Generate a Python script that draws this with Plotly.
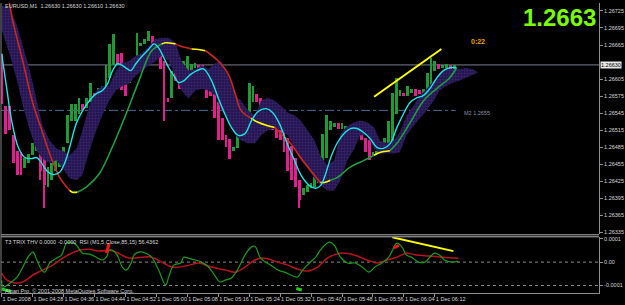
import plotly.graph_objects as go

# ---------------- data ----------------
tick_bars = [0, 8, 16, 24, 32, 40, 48, 56, 64, 72, 80, 88, 96, 104, 112]
tick_labels = ["1 Dec 2008", "1 Dec 04:28", "1 Dec 04:36", "1 Dec 04:44", "1 Dec 04:52",
               "1 Dec 05:00", "1 Dec 05:08", "1 Dec 05:16", "1 Dec 05:24", "1 Dec 05:32",
               "1 Dec 05:40", "1 Dec 05:48", "1 Dec 05:56", "1 Dec 06:04", "1 Dec 06:12"]
price_ticks = [1.26725, 1.26695, 1.26665, 1.26605, 1.26575, 1.26545,
               1.26515, 1.26485, 1.26455, 1.26425, 1.26395, 1.26365, 1.26335]
sub_ticks = [0.0001, 0.0, -0.0001]
sub_tick_text = ["0.0001", "0.00", "-0.0001"]
sub_levels = [0.0, -0.0001]

symbol = "EURUSD,M1"
ohlc_last = ["1.26630", "1.26630", "1.26610", "1.26630"]
bid = 1.26630
m2_level = 1.2655
timer_text = "0:22"
sub_title = "T3 TRIX THV 0.0000 -0.0000  RSI (M1,5,Close,85,15) 56.4362"
copyright_text = "Alpari Pro, \u00a9 2001-2008 MetaQuotes Software Corp."

# Heiken-Ashi style bars: body top, body bottom, up(1)/down(0)
bar_top = [1.26650, 1.26558, 1.26558, 1.26506, 1.26479, 1.26476, 1.26467, 1.26474, 1.26493, 1.26493,
           1.26485, 1.26467, 1.26450, 1.26457, 1.26467, 1.26467, 1.26485, 1.26541, 1.26562, 1.26562,
           1.26572, 1.26562, 1.26571, 1.26599, 1.26581, 1.26590, 1.26593, 1.26629, 1.26667, 1.26685,
           1.26650, 1.26651, 1.26623, 1.26625, 1.26641, 1.26686, 1.26669, 1.26676, 1.26690, 1.26681,
           1.26676, 1.26650, 1.26637, 1.26572, 1.26620, 1.26650, 1.26602, 1.26637, 1.26646, 1.26632,
           1.26634, 1.26629, 1.26629, 1.26623, 1.26599, 1.26593, 1.26564, 1.26537, 1.26506, 1.26500,
           1.26485, 1.26520, 1.26532, 1.26544, 1.26599, 1.26593, 1.26579, 1.26572, 1.26529, 1.26527,
           1.26537, 1.26532, 1.26518, 1.26515, 1.26502, 1.26488, 1.26467, 1.26427, 1.26413, 1.26418,
           1.26422, 1.26432, 1.26448, 1.26509, 1.26541, 1.26532, 1.26527, 1.26527, 1.26527, 1.26523,
           1.26520, 1.26520, 1.26515, 1.26515, 1.26502, 1.26497, 1.26476, 1.26479, 1.26485, 1.26502,
           1.26532, 1.26581, 1.26607, 1.26585, 1.26581, 1.26593, 1.26588, 1.26588, 1.26585, 1.26588,
           1.26616, 1.26643, 1.26637, 1.26632, 1.26629, 1.26632, 1.26629, 1.26629]
bar_bot = [1.26562, 1.26509, 1.26515, 1.26457, 1.26436, 1.26436, 1.26448, 1.26457, 1.26471, 1.26479,
           1.26444, 1.26418, 1.26415, 1.26427, 1.26444, 1.26450, 1.26462, 1.26492, 1.26532, 1.26532,
           1.26544, 1.26550, 1.26555, 1.26564, 1.26571, 1.26576, 1.26581, 1.26585, 1.26607, 1.26629,
           1.26632, 1.26585, 1.26576, 1.26599, 1.26623, 1.26643, 1.26664, 1.26667, 1.26672, 1.26658,
           1.26660, 1.26623, 1.26567, 1.26564, 1.26572, 1.26602, 1.26588, 1.26611, 1.26614, 1.26614,
           1.26625, 1.26623, 1.26620, 1.26571, 1.26576, 1.26537, 1.26497, 1.26497, 1.26485, 1.26465,
           1.26479, 1.26483, 1.26500, 1.26532, 1.26532, 1.26564, 1.26564, 1.26532, 1.26520, 1.26515,
           1.26515, 1.26502, 1.26497, 1.26476, 1.26444, 1.26427, 1.26415, 1.26392, 1.26401, 1.26406,
           1.26413, 1.26415, 1.26422, 1.26439, 1.26467, 1.26515, 1.26520, 1.26518, 1.26518, 1.26518,
           1.26515, 1.26509, 1.26506, 1.26497, 1.26476, 1.26462, 1.26471, 1.26474, 1.26476, 1.26479,
           1.26485, 1.26488, 1.26544, 1.26576, 1.26576, 1.26576, 1.26581, 1.26576, 1.26579, 1.26581,
           1.26581, 1.26593, 1.26620, 1.26623, 1.26625, 1.26625, 1.26614, 1.26620]
bar_up = [0, 0, 0, 0, 0, 0, 1, 1, 1, 1, 0, 0, 1, 1, 1, 1, 1, 1, 1, 1,
          1, 0, 1, 1, 0, 1, 1, 1, 1, 1, 0, 0, 0, 1, 1, 1, 1, 1, 1, 0,
          1, 0, 0, 0, 1, 0, 0, 1, 1, 1, 1, 0, 0, 0, 0, 0, 0, 0, 0, 0,
          1, 1, 1, 1, 1, 1, 0, 0, 0, 0, 0, 0, 0, 0, 0, 0, 0, 0, 1, 1,
          1, 1, 1, 1, 1, 1, 1, 0, 1, 1, 1, 0, 0, 0, 0, 0, 1, 1, 1, 1,
          1, 1, 1, 1, 0, 1, 1, 0, 0, 1, 1, 1, 1, 0, 1, 1, 0, 1]
wick_bar = [10, 11, 42, 67, 77]
wick_high = [1.26485, 1.26467, 1.26637, 1.26572, 1.26427]
wick_low = [1.26427, 1.26379, 1.26532, 1.26515, 1.26378]

# fast smoothed line (cyan)
fast_x = [0, 1.3, 2.6, 4.3, 6, 7.7, 9, 10.3, 11.6, 13.3, 15, 16.3, 17.6, 19.3, 21, 22.7, 24.4, 26.1,
          27.4, 28.7, 30, 31.2, 32.5, 33.4, 34.7, 36.4, 38.1, 39.4, 40.6, 41.9, 43.2, 44.5, 45.8, 47.1,
          48.8, 50.5, 52.2, 54.3, 56, 57.7, 59.4, 61.2, 62.9, 64.6, 66.3, 68.4, 70.1, 71.8, 73.5, 75.7,
          77.4, 79.5, 81.2, 82.5, 83.8, 85.1, 86.8, 88.5, 90.2, 91.9, 93.6, 95.3, 97, 98.7, 100.5, 102.2,
          103.9, 105.6, 107.3, 109, 110.7, 112.4, 114.2, 115.9, 117.6]
fast_y = [1.26650, 1.26590, 1.26532, 1.26485, 1.26467, 1.26465, 1.26467, 1.26458, 1.26444, 1.26437,
          1.26441, 1.26457, 1.26485, 1.26527, 1.26550, 1.26567, 1.26579, 1.26585, 1.26597, 1.26620,
          1.26632, 1.26629, 1.26623, 1.26620, 1.26632, 1.26646, 1.26658, 1.26667, 1.26660, 1.26643,
          1.26625, 1.26611, 1.26599, 1.26602, 1.26613, 1.26620, 1.26623, 1.26602, 1.26572, 1.26544,
          1.26520, 1.26506, 1.26509, 1.26532, 1.26548, 1.26553, 1.26546, 1.26527, 1.26497, 1.26462,
          1.26436, 1.26418, 1.26413, 1.26418, 1.26439, 1.26467, 1.26493, 1.26509, 1.26518, 1.26518,
          1.26511, 1.26500, 1.26485, 1.26483, 1.26492, 1.26520, 1.26544, 1.26564, 1.26572, 1.26576,
          1.26588, 1.26606, 1.26620, 1.26625, 1.26625]

# slow moving average, coloured by slope state: r = falling, y = flat, g = rising
slow_x = [1.9, 2.9, 5.5, 8.1, 10.4, 12.4, 15.0, 17.6, 18.3, 19.6, 21.9, 25.3, 28.6, 32.2, 35.5, 38.8,
          41.4, 42.4, 45.0, 45.8, 49.1, 50.9, 52.7, 53.5, 56.0, 58.6, 60.4, 61.9, 64.5, 66.3, 68.8,
          70.6, 72.2, 74.7, 77.3, 79.9, 82.4, 83.5, 85.0, 86.8, 90.1, 93.7, 96.3, 97.8, 100.4, 102.2,
          105.5, 109.1, 112.4, 115.8, 117.6]
slow_y = [1.26745, 1.26707, 1.26636, 1.26562, 1.26515, 1.26474, 1.26432, 1.26409, 1.26406, 1.26406,
          1.26415, 1.26439, 1.26485, 1.26544, 1.26602, 1.26655, 1.26667, 1.26669, 1.26667, 1.26664,
          1.26658, 1.26657, 1.26655, 1.26651, 1.26637, 1.26614, 1.26579, 1.26550, 1.26536, 1.26529,
          1.26523, 1.26520, 1.26509, 1.26492, 1.26467, 1.26444, 1.26423, 1.26423, 1.26427, 1.26432,
          1.26450, 1.26462, 1.26471, 1.26476, 1.26479, 1.26492, 1.26527, 1.26567, 1.26588, 1.26607,
          1.26625]
slow_state = ["r", "r", "r", "r", "r", "r", "r", "r", "y", "y", "g", "g", "g", "g", "g", "g",
              "g", "y", "y", "r", "r", "y", "y", "r", "r", "r", "r", "r", "r", "y", "y",
              "y", "r", "r", "r", "r", "r", "y", "y", "g", "g", "g", "g", "y", "y", "g",
              "g", "g", "g", "g", "g"]

# displaced purple band
cloud_x = [0.1, 2.2, 4.0, 5.5, 7.3, 9.1, 10.6, 12.4, 14.2, 15.8, 17.6, 19.4, 20.9, 22.7, 24.5, 26.0,
           27.8, 29.6, 31.2, 32.9, 34.7, 36.3, 38.1, 39.9, 41.4, 43.2, 45.0, 46.5, 48.3, 50.1, 51.7,
           53.5, 55.3, 56.8, 58.6, 60.4, 61.9, 63.7, 65.5, 67.1, 68.8, 70.6, 72.2, 74.0, 75.8, 77.3,
           79.1, 80.9, 82.4, 84.2, 86.0, 87.6, 89.4, 91.2, 92.7, 94.5, 96.3, 97.8, 99.6, 101.4, 102.9,
           104.7, 106.5, 108.1, 109.9, 111.7, 113.2, 115.0, 116.8, 118.3, 120.1, 121.9, 123.0]
cloud_hi = [1.26734, 1.26729, 1.26699, 1.26664, 1.26620, 1.26567, 1.26523, 1.26497, 1.26483, 1.26479,
            1.26471, 1.26483, 1.26515, 1.26558, 1.26585, 1.26593, 1.26593, 1.26620, 1.26634, 1.26637,
            1.26646, 1.26651, 1.26664, 1.26676, 1.26678, 1.26678, 1.26669, 1.26637, 1.26620, 1.26623,
            1.26629, 1.26623, 1.26634, 1.26637, 1.26611, 1.26576, 1.26567, 1.26550, 1.26541, 1.26567,
            1.26572, 1.26567, 1.26558, 1.26546, 1.26541, 1.26532, 1.26515, 1.26497, 1.26471, 1.26453,
            1.26462, 1.26509, 1.26523, 1.26529, 1.26532, 1.26529, 1.26520, 1.26497, 1.26492, 1.26497,
            1.26511, 1.26541, 1.26558, 1.26576, 1.26588, 1.26602, 1.26616, 1.26623, 1.26623, 1.26623,
            1.26625, 1.26622, 1.26618]
cloud_lo = [1.26690, 1.26646, 1.26602, 1.26558, 1.26515, 1.26479, 1.26465, 1.26457, 1.26462, 1.26448,
            1.26430, 1.26427, 1.26436, 1.26479, 1.26515, 1.26541, 1.26567, 1.26585, 1.26593, 1.26597,
            1.26611, 1.26620, 1.26629, 1.26637, 1.26646, 1.26637, 1.26611, 1.26585, 1.26571, 1.26585,
            1.26588, 1.26585, 1.26576, 1.26550, 1.26532, 1.26506, 1.26497, 1.26492, 1.26492, 1.26506,
            1.26515, 1.26518, 1.26515, 1.26506, 1.26483, 1.26462, 1.26448, 1.26430, 1.26418, 1.26409,
            1.26409, 1.26427, 1.26462, 1.26483, 1.26506, 1.26506, 1.26483, 1.26474, 1.26474, 1.26474,
            1.26476, 1.26506, 1.26523, 1.26536, 1.26550, 1.26567, 1.26585, 1.26593, 1.26599, 1.26602,
            1.26607, 1.26613, 1.26616]

trend_x = [96.3, 113.7]
trend_y = [1.26574, 1.26658]

# sub-window oscillators
osc_fast_x = [0, 0.4, 2.2, 4.0, 5.5, 6.8, 8.1, 9.1, 10.4, 11.2, 12.4, 14.2, 15.5, 16.8, 18.1, 19.4,
              20.9, 22.7, 24.5, 26.0, 27.1, 27.8, 28.6, 29.9, 31.2, 32.2, 33.5, 34.2, 35.5, 37.3, 38.8,
              40.6, 42.4, 43.2, 44.5, 46.3, 47.1, 48.3, 50.1, 51.7, 53.5, 54.7, 56.5, 57.8, 59.4, 61.2,
              62.9, 64.5, 65.5, 66.8, 68.1, 69.6, 71.4, 73.2, 74.7, 76.5, 77.8, 79.6, 81.2, 82.4, 84.7,
              86.0, 87.6, 89.4, 91.4, 93.2, 95.0, 96.5, 98.3, 100.1, 102.2, 103.5, 104.7, 106.0, 107.8,
              109.4, 110.7, 111.9, 113.2, 114.5, 116.3, 118.1]
osc_fast_y = [-0.000077, -0.000106, -0.000089, -0.000064, -0.000021, 0.000021, 0.000043, 0.000009,
              -0.000034, -0.000043, -0.000004, 0.000017, 0.000030, 0.000081, 0.000085, 0.000072,
              0.000038, 0.000034, 0.000021, 0.000009, 0.000021, 0.000051, 0.000051, 0.000030,
              -0.000021, -0.000034, -0.000004, 0.000030, 0.000043, 0.000038, 0.000021, -0.000034,
              -0.000098, -0.000064, -0.000013, -0.000004, 0.000021, 0.000017, 0.000009, 0.000000,
              -0.000021, -0.000047, -0.000085, -0.000077, -0.000068, -0.000026, 0.000030, 0.000064,
              0.000068, 0.000021, 0.000000, -0.000013, -0.000034, -0.000043, -0.000055, -0.000064,
              -0.000034, -0.000004, 0.000021, 0.000051, 0.000085, 0.000072, 0.000021, -0.000004,
              -0.000004, -0.000021, -0.000043, -0.000021, -0.000004, 0.000021, 0.000081, 0.000064,
              0.000030, 0.000021, 0.000000, 0.000000, 0.000021, 0.000038, 0.000030, 0.000009,
              0.000000, 0.000004]
osc_slow_x = [0, 1.4, 3.5, 5.5, 8.1, 10.6, 13.2, 15.8, 18.1, 20.1, 22.7, 25.3, 27.8, 29.6, 32.2, 33.7,
              36.3, 38.8, 41.4, 44.0, 47.6, 50.9, 54.2, 57.8, 60.4, 62.9, 65.5, 68.1, 71.4, 74.0, 76.5,
              79.1, 81.7, 84.2, 87.6, 91.2, 94.5, 97.1, 99.6, 102.2, 104.7, 107.3, 110.6, 114.2, 118.1]
osc_slow_y = [-0.000047, -0.000077, -0.000089, -0.000085, -0.000055, -0.000034, -0.000013, 0.000017,
              0.000038, 0.000051, 0.000055, 0.000047, 0.000051, 0.000043, 0.000021, 0.000017, 0.000021,
              0.000021, 0.000000, -0.000021, -0.000017, -0.000004, -0.000021, -0.000034, -0.000043,
              -0.000021, 0.000009, 0.000017, 0.000000, -0.000013, -0.000030, -0.000038, -0.000021,
              0.000017, 0.000038, 0.000030, 0.000009, -0.000004, 0.000009, 0.000021, 0.000038,
              0.000030, 0.000026, 0.000021, 0.000017]
osc_trend_x = [101.0, 116.8]
osc_trend_y = [0.000106, 0.000047]
osc_red_marks = [([27.1, 27.8], [0.000038, 0.000081]), ([101.4, 102.7], [0.000060, 0.000072])]
osc_green_marks = [([0.0, 2.5], [-0.000115, -0.000125]), ([76.2, 77.6], [-0.000113, -0.000119])]

# ---------------- layout geometry ----------------
W, H = 625, 305
ML, MR, MT, MB = 1, 18, 2, 12
PW = W - ML - MR
PH = H - MT - MB
BAR0_PX, BAR_PX = 1.6, 3.92


def fx(px):
    return (px - ML) / PW


def fy(py):
    return (H - MB - py) / PH


x_range = [(ML - BAR0_PX) / BAR_PX, (ML + PW - BAR0_PX) / BAR_PX]
main_range = [1.26332, 1.26739]
sub_range = [-0.0001319, 0.0001064]

FONT = "Liberation Sans"
GREEN_BAR, PINK_BAR = "#1f9a36", "#e0208e"
STATE_COL = {"r": "#c8281e", "y": "#ffff00", "g": "#1e9e3e"}

fig = go.Figure()

# purple band (dotted fill like the terminal's hatched histogram)
fig.add_trace(go.Scatter(x=cloud_x, y=cloud_lo, mode="lines", line=dict(width=0),
                         hoverinfo="skip", xaxis="x", yaxis="y"))
fig.add_trace(go.Scatter(x=cloud_x, y=cloud_hi, mode="lines", line=dict(width=0),
                         fill="tonexty", fillcolor="#1e1242",
                         fillpattern=dict(shape=".", fgcolor="#4b2f96", bgcolor="#1e1242",
                                          size=3, solidity=0.55),
                         hoverinfo="skip", xaxis="x", yaxis="y"))

# wicks and bodies
fig.add_trace(go.Bar(x=wick_bar, base=wick_low, y=[h - l for h, l in zip(wick_high, wick_low)],
                     width=0.28, marker=dict(color=PINK_BAR, line=dict(width=0)),
                     xaxis="x", yaxis="y"))
idx = list(range(len(bar_top)))
fig.add_trace(go.Bar(x=idx, base=bar_bot, y=[t - b for t, b in zip(bar_top, bar_bot)],
                     width=0.74,
                     marker=dict(color=[GREEN_BAR if u else PINK_BAR for u in bar_up],
                                 line=dict(width=0)),
                     xaxis="x", yaxis="y"))

# slow MA coloured segments (a new run starts whenever the slope state changes)
runs = []
cur = [0]
for k in range(1, len(slow_x)):
    if len(cur) == 1 or slow_state[k] == slow_state[cur[-1]]:
        cur.append(k)
    else:
        runs.append(cur)
        cur = [cur[-1], k]
runs.append(cur)
for r in runs:
    st = slow_state[r[-1]]
    fig.add_trace(go.Scatter(x=[slow_x[k] for k in r], y=[slow_y[k] for k in r], mode="lines",
                             line=dict(color=STATE_COL[st], width=1.6, shape="spline"),
                             hoverinfo="skip", xaxis="x", yaxis="y"))

# fast line
fig.add_trace(go.Scatter(x=fast_x, y=fast_y, mode="lines",
                         line=dict(color="#19e6e6", width=1.4, shape="spline"),
                         xaxis="x", yaxis="y"))
# trend line
fig.add_trace(go.Scatter(x=trend_x, y=trend_y, mode="lines",
                         line=dict(color="#ffff00", width=2), xaxis="x", yaxis="y"))

# sub window
fig.add_trace(go.Scatter(x=osc_slow_x, y=osc_slow_y, mode="lines",
                         line=dict(color="#b8141e", width=1.5, shape="spline"),
                         xaxis="x", yaxis="y2"))
fig.add_trace(go.Scatter(x=osc_fast_x, y=osc_fast_y, mode="lines",
                         line=dict(color="#1c9a1c", width=1.2, shape="spline"),
                         xaxis="x", yaxis="y2"))
for mx, my in osc_red_marks:
    fig.add_trace(go.Scatter(x=mx, y=my, mode="lines", line=dict(color="#ff1010", width=3),
                             xaxis="x", yaxis="y2"))
for mx, my in osc_green_marks:
    fig.add_trace(go.Scatter(x=mx, y=my, mode="lines", line=dict(color="#22cc22", width=3),
                             xaxis="x", yaxis="y2"))
fig.add_trace(go.Scatter(x=osc_trend_x, y=osc_trend_y, mode="lines",
                         line=dict(color="#ffff00", width=2), xaxis="x", yaxis="y2"))

shapes = [
    dict(type="line", xref="paper", yref="y", x0=0, x1=1, y0=bid, y1=bid,
         line=dict(color="#7a7f90", width=1), layer="below"),
    dict(type="line", xref="x", yref="y", x0=x_range[0], x1=len(bar_top) - 0.6, y0=m2_level,
         y1=m2_level, line=dict(color="#4a6c9c", width=1, dash="dashdot"), layer="below"),
    dict(type="line", xref="paper", yref="paper", x0=0, x1=1, y0=fy(234.6), y1=fy(234.6),
         line=dict(color="#b4b4b4", width=1)),
    dict(type="line", xref="paper", yref="paper", x0=0, x1=1, y0=fy(236.6), y1=fy(236.6),
         line=dict(color="#b4b4b4", width=1)),
    dict(type="line", xref="paper", yref="paper", x0=0, x1=0, y0=0, y1=1,
         line=dict(color="#808080", width=1)),
]
for lv in sub_levels:
    shapes.append(dict(type="line", xref="paper", yref="y2", x0=0, x1=1, y0=lv, y1=lv,
                       line=dict(color="#8a8a8a", width=1, dash="dot"), layer="below"))

small = dict(family=FONT, size=5.5, color="#d8d8d8")
annotations = [
    dict(xref="paper", yref="paper", x=fx(3), y=fy(5), xanchor="left", yanchor="middle",
         text=symbol + "  " + " ".join(ohlc_last), showarrow=False, font=small),
    dict(xref="paper", yref="paper", x=fx(606), y=fy(17), xanchor="right", yanchor="middle",
         text=f"<b>{bid:.4f}</b>", showarrow=False,
         font=dict(family=FONT, size=24, color="#7cfc00")),
    dict(xref="paper", yref="paper", x=fx(475), y=fy(40.5), xanchor="left", yanchor="middle",
         text=f"<b>{timer_text}</b>", showarrow=False,
         font=dict(family=FONT, size=7, color="#f0a000")),
    dict(xref="paper", yref="y", x=fx(468), y=m2_level, yshift=-3, xanchor="left",
         yanchor="middle", text=f"M2 {m2_level:.4f}", showarrow=False,
         font=dict(family=FONT, size=5.5, color="#8a94a6")),
    dict(xref="paper", yref="y", x=1, y=bid, xanchor="left", yanchor="middle", xshift=1,
         text=f"{bid:.5f}", showarrow=False, bgcolor="#e8e8e8", borderpad=0,
         font=dict(family=FONT, size=5.5, color="#000000")),
    dict(xref="paper", yref="paper", x=fx(3), y=fy(241.5), xanchor="left", yanchor="middle",
         text=sub_title, showarrow=False, font=small),
    dict(xref="paper", yref="paper", x=fx(3), y=fy(291), xanchor="left", yanchor="middle",
         text=copyright_text, showarrow=False, font=small),
]

fig.update_layout(
    width=W, height=H,
    margin=dict(l=ML, r=MR, t=MT, b=MB, pad=0),
    paper_bgcolor="#000000", plot_bgcolor="#000000",
    showlegend=False, barmode="overlay", bargap=0,
    shapes=shapes, annotations=annotations,
    xaxis=dict(range=x_range, anchor="y2", showgrid=False, zeroline=False,
               tickmode="array", tickvals=tick_bars, ticktext=tick_labels,
               ticks="outside", ticklen=3, tickcolor="#909090", tickangle=0,
               ticklabelposition="outside right",
               showline=True, linecolor="#909090", linewidth=1,
               tickfont=small),
    yaxis=dict(domain=[fy(234), 1], range=main_range, side="right", showgrid=False,
               zeroline=False, tickmode="array", tickvals=price_ticks,
               ticktext=[f"{p:.5f}" for p in price_ticks],
               ticks="outside", ticklen=3, tickcolor="#909090",
               showline=True, linecolor="#909090", linewidth=1, tickfont=small),
    yaxis2=dict(domain=[0, fy(237)], range=sub_range, side="right", showgrid=False,
                zeroline=False, tickmode="array", tickvals=sub_ticks, ticktext=sub_tick_text,
                ticks="outside", ticklen=3, tickcolor="#909090",
                showline=True, linecolor="#909090", linewidth=1, tickfont=small),
)

fig.write_html("out.html")
